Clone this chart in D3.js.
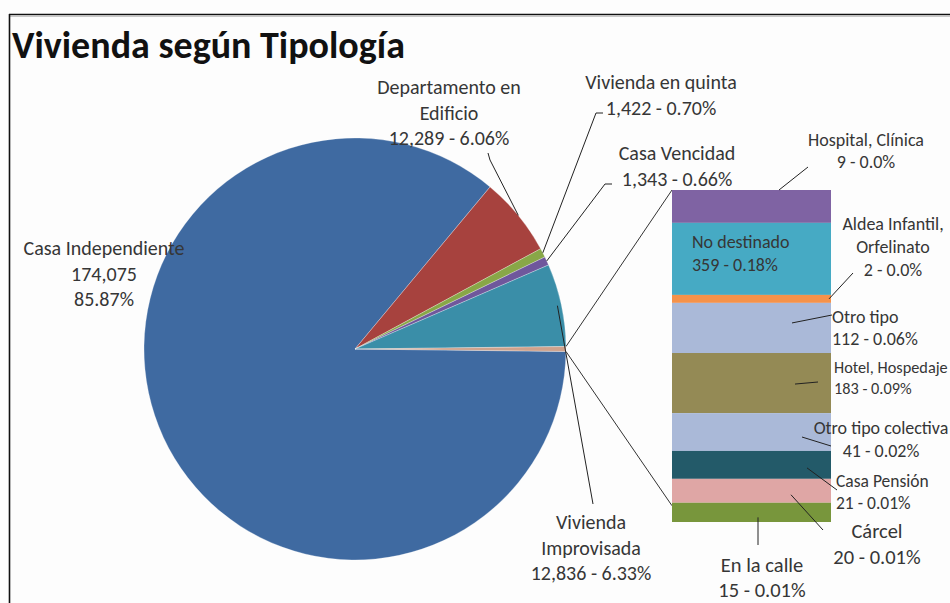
<!DOCTYPE html>
<html>
<head>
<meta charset="utf-8">
<script src="https://cdn.jsdelivr.net/npm/d3@7"></script>
<style>
  body { margin: 0; background: #fff; }
  text { font-family: Carlito, Lato, "DejaVu Sans", sans-serif; fill: #363636; }
</style>
</head>
<body>
<script>
// main pie data
var pieNames = ["Casa Independiente", "Departamento en Edificio", "Vivienda en quinta", "Casa Vencidad", "Vivienda Improvisada"];
var pieValues = [174075, 12289, 1422, 1343, 12836];
var piePct = ["85.87%", "6.06%", "0.70%", "0.66%", "6.33%"];
var pieColors = ["#3f6aa1", "#a7423e", "#88a747", "#6f579c", "#3a8ea8"];

// the small ones, shown in the bar
var barNames = ["Hospital, Clínica", "No destinado", "Aldea Infantil, Orfelinato", "Otro tipo", "Hotel, Hospedaje",
                "Otro tipo colectiva", "Casa Pensión", "Cárcel", "En la calle"];
var barValues = [9, 359, 2, 112, 183, 41, 21, 20, 15];
var barPct = ["0.0%", "0.18%", "0.0%", "0.06%", "0.09%", "0.02%", "0.01%", "0.01%", "0.01%"];
// height of each band as share of the bar (%), as drawn in the picture
var barShare = [9.9, 21.7, 2.4, 15.1, 18.1, 11.4, 8.4, 7.2, 5.8];
var barColors = ["#7f63a3", "#46aac4", "#f5924a", "#aab9d8", "#948a55", "#aab9d8", "#235a69", "#dfa6a5", "#78963c"];
var otherColor = "#cfa28c";

function draw() {
    var w = 950, h = 603;
    var svg = d3.select("body").append("svg")
        .attr("width", w)
        .attr("height", h);

    // frame (only top and left are visible)
    svg.append("rect").attr("x", 0).attr("y", 0).attr("width", w).attr("height", h).attr("fill", "#fdfdfd");
    svg.append("line").attr("x1", 9).attr("x2", w).attr("y1", 14.5).attr("y2", 14.5).attr("stroke", "#111").attr("stroke-width", 1.6);
    svg.append("line").attr("x1", 9).attr("x2", w).attr("y1", 16.5).attr("y2", 16.5).attr("stroke", "#c8c8c8").attr("stroke-width", 1);
    svg.append("line").attr("x1", 9.5).attr("x2", 9.5).attr("y1", 14).attr("y2", h).attr("stroke", "#111").attr("stroke-width", 1.6);

    svg.append("text")
        .attr("x", 12).attr("y", 58)
        .style("font-size", "38px").style("font-weight", "bold").style("fill", "#111")
        .text("Vivienda según Tipología");

    // ---- pie ----
    var cx = 355, cy = 349, r = 211;
    var otherTotal = d3.sum(barValues);
    var allValues = pieValues.concat([otherTotal]);
    var total = d3.sum(allValues);
    var half = otherTotal / total * Math.PI;   // half of the "other" slice
    var pie = d3.pie().sort(null)
        .startAngle(Math.PI / 2 + half)
        .endAngle(Math.PI / 2 + half + 2 * Math.PI);
    var arcs = pie(allValues);
    var arc = d3.arc().innerRadius(0).outerRadius(r);

    var g = svg.append("g").attr("transform", "translate(" + cx + "," + cy + ")");
    g.selectAll("path")
        .data(arcs)
        .enter()
        .append("path")
        .attr("d", arc)
        .attr("fill", function(d, i) { return i < pieColors.length ? pieColors[i] : otherColor; })
        .attr("stroke", "#ffffff")
        .attr("stroke-opacity", 0.35)
        .attr("stroke-width", 0.8);

    function onArc(a, rad) {
        return [cx + rad * Math.sin(a), cy - rad * Math.cos(a)];
    }

    // label layout for the pie slices
    var pieLab = [
        { x: 104, y: 255, lines: ["Casa Independiente", "174,075", "85.87%"], lead: null },
        { x: 449, y: 94, lines: ["Departamento en", "Edificio", "12,289 - 6.06%"], lead: [[488, 153], [490, 160]] },
        { x: 661, y: 89, lines: ["Vivienda en quinta", "1,422 - 0.70%"], lead: [[603, 113], [596, 113]] },
        { x: 677, y: 160, lines: ["Casa Vencidad", "1,343 - 0.66%"], lead: [[612, 184], [605, 184]] },
        { x: 591, y: 529, lines: ["Vivienda", "Improvisada", "12,836 - 6.33%"], lead: [[593, 504]] }
    ];
    var line = d3.line();
    pieLab.forEach(function(L, i) {
        var t = svg.append("text").attr("text-anchor", "middle").style("font-size", "20px");
        L.lines.forEach(function(s, k) {
            t.append("tspan").attr("x", L.x).attr("y", L.y + k * 25.5).text(s);
        });
        if (L.lead) {
            var a = (arcs[i].startAngle + arcs[i].endAngle) / 2;
            var pts = L.lead.concat([onArc(a, i == 4 ? r - 4 : r)]);
            svg.append("path").attr("d", line(pts)).attr("fill", "none").attr("stroke", "#222").attr("stroke-width", 1);
        }
    });

    // ---- bar of the small ones ----
    var bx = 672, bw = 159;
    var y = d3.scaleLinear().domain([0, d3.sum(barShare)]).range([190, 522]);
    var cum = d3.cumsum(barShare);
    var segs = barShare.map(function(v, i) {
        return { i: i, y0: y(cum[i] - v), y1: y(cum[i]) };
    });

    // connector lines from the "other" slice to the bar
    var oArc = arcs[arcs.length - 1];
    var pTop = onArc(oArc.startAngle, r), pBot = onArc(oArc.endAngle, r);
    svg.append("line").attr("x1", pTop[0]).attr("y1", pTop[1]).attr("x2", bx).attr("y2", segs[0].y0)
        .attr("stroke", "#333").attr("stroke-width", 1);
    svg.append("line").attr("x1", pBot[0]).attr("y1", pBot[1]).attr("x2", bx).attr("y2", segs[segs.length - 1].y0 + 3)
        .attr("stroke", "#333").attr("stroke-width", 1);

    svg.selectAll("rect.seg")
        .data(segs)
        .enter()
        .append("rect")
        .attr("class", "seg")
        .attr("x", bx)
        .attr("y", function(d) { return d.y0; })
        .attr("width", bw)
        .attr("height", function(d) { return d.y1 - d.y0; })
        .attr("fill", function(d) { return barColors[d.i]; });

    // label layout for the bar bands
    var barLab = [
        { x: 866, y: 146, anchor: "middle", size: 18, gap: 22, lines: ["Hospital, Clínica"], lead: [779, 0, 808, 167] },
        { x: 692, y: 248, anchor: "start", size: 18, gap: 23, lines: ["No destinado"], lead: null },
        { x: 893, y: 230, anchor: "middle", size: 18, gap: 23, lines: ["Aldea Infantil,", "Orfelinato"], lead: [829, 0, 853, 273] },
        { x: 832, y: 323, anchor: "start", size: 18, gap: 21.5, lines: ["Otro tipo"], lead: [792, -5, 832, 315] },
        { x: 834, y: 373, anchor: "start", size: 16.3, gap: 21, lines: ["Hotel, Hospedaje"], lead: [795, 1, 818, 382] },
        { x: 881, y: 434, anchor: "middle", size: 18, gap: 23, lines: ["Otro tipo  colectiva"], lead: [802, 5, 831, 446] },
        { x: 836, y: 487, anchor: "start", size: 17.5, gap: 22, lines: ["Casa Pensión"], lead: [807, 3, 837, 490] },
        { x: 877, y: 538, anchor: "middle", size: 20.5, gap: 26, lines: ["Cárcel"], lead: [791, 4, 823, 530] },
        { x: 762, y: 572, anchor: "middle", size: 20.5, gap: 25, lines: ["En la calle"], lead: [758, 5, 758, 545] }
    ];
    var fmt = d3.format(",");
    barLab.forEach(function(L, i) {
        var s = segs[i];
        if (L.lead) {
            var sy = i == 0 ? s.y0 : (s.y0 + s.y1) / 2 + L.lead[1];
            svg.append("line").attr("x1", L.lead[0]).attr("y1", sy).attr("x2", L.lead[2]).attr("y2", L.lead[3])
                .attr("stroke", "#222").attr("stroke-width", 1);
        }
        var t = svg.append("text").attr("text-anchor", L.anchor).style("font-size", L.size + "px");
        var rows = L.lines.concat([fmt(barValues[i]) + " - " + barPct[i]]);
        rows.forEach(function(txt, k) {
            t.append("tspan").attr("x", L.x).attr("y", L.y + k * L.gap).text(txt);
        });
    });
}
window.onload = draw;
</script>
</body>
</html>
